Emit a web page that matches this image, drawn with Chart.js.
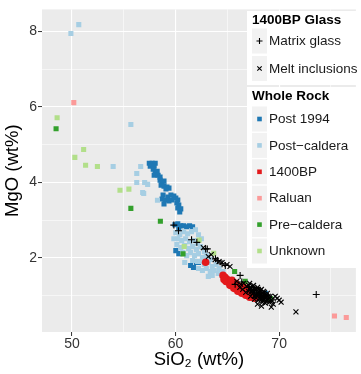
<!DOCTYPE html>
<html>
<head>
<meta charset="utf-8">
<script src="https://cdn.jsdelivr.net/npm/chart.js@4/dist/chart.umd.min.js"></script>
<style>
  html, body { margin: 0; padding: 0; background: #fff; }
  #wrap { width: 361px; height: 374px; }
</style>
</head>
<body>
<div id="wrap"><canvas id="canvas1" width="361" height="374"></canvas></div>
<script>
// Tick values
const xTicks = [50, 55, 60, 65, 70, 75];
const yTicks = [1, 2, 3, 4, 5, 6, 7, 8];

// Whole rock series [SiO2, MgO]
const post1994 = [
  [57.46,4.505],[57.74,4.505],[58.03,4.505],[57.55,4.426],[57.93,4.426],[57.84,4.347],[58.03,4.268],
  [58.22,4.294],[57.93,4.189],[58.31,4.189],[58.50,4.137],[58.50,4.058],[58.69,4.005],[58.88,4.031],
  [58.60,3.926],[58.88,3.900],[59.17,3.874],[59.36,3.847],[59.07,3.821],[58.79,3.663],[58.69,3.558],
  [58.98,3.532],[59.26,3.611],[59.55,3.663],[59.83,3.637],[59.64,3.532],[60.02,3.584],[60.21,3.532],
  [60.12,3.453],[60.31,3.401],[60.21,3.322],[60.50,3.296],[60.40,3.217],[58.88,3.427],[59.36,3.506],
  [59.93,2.875],[60.21,2.901],[60.50,2.849],[60.78,2.849],[61.07,2.823],[61.35,2.849],[61.64,2.823],
  [60.31,2.770],[60.02,2.192],[60.31,2.113],[61.45,1.797],[61.73,1.745],[62.02,1.876],[62.21,1.876],
  [68.67,1.061]
];
const postCaldera = [
  [49.89,7.94],[50.65,8.176],[55.68,5.53],[53.97,4.418],[56.63,4.418],[56.25,4.234],[56.25,3.997],
  [57.01,3.997],[57.30,3.945],[56.82,3.729],[56.92,3.703],[58.25,3.524],
  [60.02,2.665],[60.40,2.613],[60.78,2.692],[61.16,2.639],[61.54,2.692],[61.92,2.744],[62.21,2.613],
  [62.49,2.507],[60.21,2.507],[60.59,2.455],[60.97,2.507],[61.35,2.428],[61.73,2.455],[62.11,2.376],
  [60.12,2.350],[60.50,2.271],[60.88,2.323],[61.26,2.244],[61.64,2.297],[62.02,2.218],[62.40,2.297],
  [62.78,2.166],[60.69,2.139],[61.07,2.060],[61.45,2.139],[61.83,2.060],[62.21,2.113],[62.59,2.008],
  [62.97,2.060],[63.35,1.955],[61.64,1.929],[62.11,1.903],[62.40,1.903],[62.78,1.824],[63.16,1.876],
  [63.54,1.771],[63.92,1.824],[62.21,1.719],[62.59,1.666],[62.97,1.719],[63.35,1.640],[63.73,1.666],
  [64.11,1.587],[64.49,1.535],[63.54,1.535],[64.20,1.719],[64.58,1.640],[60.88,1.876],[59.83,2.507],
  [63.16,1.509]
];
const bp1400 = [
  [62.90,1.884],
  [64.58,1.535],[64.77,1.482],[64.96,1.430],[65.15,1.377],[65.34,1.351],[65.53,1.298],[65.72,1.272],
  [65.91,1.246],[66.10,1.193],[66.29,1.167],[66.48,1.140],[66.67,1.114],[66.86,1.088],[67.05,1.035],
  [67.24,1.009],[67.43,0.957],[67.62,0.930],[64.87,1.377],[65.25,1.272],[65.63,1.193],[66.01,1.114],
  [66.39,1.062],[66.77,1.009],[67.15,0.957],[64.68,1.430],[65.44,1.403],[65.82,1.325],[66.20,1.246],
  [66.58,1.219],[66.96,1.140]
];
const raluan = [[50.17,6.11],[75.34,0.46],[76.48,0.42]];
const preCaldera = [[48.46,5.42],[55.68,3.31],[58.53,2.97],[60.72,2.105],[65.70,1.64],[69.17,0.92],[66.72,1.377]];
const unknown = [
  [48.56,5.71],[51.12,4.87],[50.27,4.66],[51.31,4.45],[52.45,4.42],[54.63,3.79],[55.49,3.82],
  [62.27,2.47],[63.68,2.12],[60.83,2.30]
];

// 1400BP glass series
const matrixGlass = [
  [59.83,2.867],[60.28,2.717],[61.54,2.481],[62.05,2.410],[62.90,2.237],[63.06,2.237],[63.85,1.974],
  [64.08,1.929],[64.49,1.842],[64.80,1.798],[66.23,1.535],[65.75,1.298],[66.39,1.359],[67.05,1.219],
  [67.62,1.140],[68.10,1.061],[68.57,0.983],[73.58,1.028]
];
const meltInclusions = [
  [62.68,2.271],[63.16,2.034],[63.44,2.087],[63.82,1.955],[64.20,1.903],[64.49,1.876],[64.96,1.824],
  [65.25,1.771],[65.91,1.377],[66.20,1.219],[66.58,1.325],[66.86,1.246],[67.15,1.325],[67.34,1.193],
  [67.53,1.272],[67.72,1.140],[67.91,1.219],[68.10,1.088],[68.29,1.167],[67.05,1.114],[67.43,1.062],
  [67.81,1.009],[68.19,0.957],[68.57,1.035],[68.76,0.957],[68.95,0.904],[67.62,0.904],[68.00,0.878],
  [68.38,0.825],[67.24,0.983],[66.77,1.088],[68.48,1.114],[67.91,0.773],[68.29,0.720],[68.67,0.799],
  [69.05,0.825],[69.33,0.852],[69.43,0.773],[69.24,0.694],[69.81,0.930],[70.00,0.878],[70.19,0.825],
  [69.62,0.983],[68.86,1.062],[69.14,0.983],[68.00,1.167],[67.43,1.140],[67.81,1.062],[68.19,1.009],
  [68.57,0.904],[68.76,0.852],[67.62,0.983],[68.38,0.983],[66.48,1.167],[66.29,1.298],[71.62,0.570],
  [67.05,1.272],[67.24,1.219],[67.43,1.246],[67.62,1.193],[67.81,1.167],[68.00,1.114],[68.19,1.140],
  [68.38,1.062],[68.57,1.088],[68.76,1.009],[68.95,0.983],[67.53,1.088],[67.72,1.035],[67.91,0.983],
  [68.10,0.930],[68.29,0.904],[68.48,0.878],[67.34,1.114],[67.15,1.167],[68.67,0.930],[68.86,0.878],
  [69.05,0.930],[69.24,0.878],[68.00,1.035],[68.38,0.957]
];

const FONT = "'Liberation Sans', Arial, Helvetica, sans-serif";
const toXY = arr => arr.map(p => ({ x: p[0], y: p[1] }));

function sq(label, data, color, order) {
  return { label, data: toXY(data), pointStyle: "rect", pointRadius: 3.6, pointBorderWidth: 0,
    backgroundColor: color, borderColor: color, order, group: "Whole Rock" };
}

const datasets = [
  { label: "Matrix glass", data: toXY(matrixGlass), pointStyle: "cross", pointRadius: 3.5,
    pointBorderWidth: 1.1, borderColor: "#000", backgroundColor: "#000", order: 1, group: "1400BP Glass" },
  { label: "Melt inclusions", data: toXY(meltInclusions), pointStyle: "crossRot", pointRadius: 3.5,
    pointBorderWidth: 1.1, borderColor: "#000", backgroundColor: "#000", order: 0, group: "1400BP Glass" },
  sq("Post 1994", post1994, "#1f78b4", 7),
  sq("Post\u2212caldera", postCaldera, "#a6cee3", 6),
  { label: "1400BP", data: toXY(bp1400), pointStyle: "circle", pointRadius: 3.8, pointBorderWidth: 0,
    backgroundColor: "#e31a1c", borderColor: "#e31a1c", order: 2, group: "Whole Rock" },
  sq("Raluan", raluan, "#fb9a99", 5),
  sq("Pre\u2212caldera", preCaldera, "#33a02c", 3),
  sq("Unknown", unknown, "#b2df8a", 4)
];

// grey panel behind the points
const panelBg = {
  id: "panelBg",
  beforeDraw(chart) {
    const a = chart.chartArea, ctx = chart.ctx;
    ctx.save();
    ctx.fillStyle = "#ebebeb";
    ctx.fillRect(a.left, a.top, a.right - a.left, a.bottom - a.top);
    ctx.restore();
  }
};

// ggplot-like legend boxes at top right
const boxLegend = {
  id: "boxLegend",
  afterDraw(chart) {
    const ctx = chart.ctx;
    const groups = [
      { title: "1400BP Glass", top: 11, bottom: 85, firstY: 41, step: 27.5 },
      { title: "Whole Rock", top: 87, bottom: 268, firstY: 119, step: 26.4 }
    ];
    ctx.save();
    groups.forEach(g => {
      ctx.fillStyle = "#fff";
      ctx.fillRect(247, g.top, 114, g.bottom - g.top);
      ctx.fillStyle = "#000";
      ctx.font = "bold 13.5px " + FONT;
      ctx.textBaseline = "middle";
      ctx.textAlign = "left";
      ctx.fillText(g.title, 252, g.top + 9.5);
      const items = datasets.filter(d => d.group === g.title);
      items.forEach((d, i) => {
        const cy = g.firstY + i * g.step;
        ctx.fillStyle = "#f2f2f2";
        ctx.fillRect(252, cy - 12.5, 15, 25);
        const cx = 259.5;
        if (d.pointStyle === "rect" || d.pointStyle === "circle") {
          ctx.fillStyle = d.backgroundColor;
          ctx.fillRect(cx - 2.3, cy - 2.3, 4.6, 4.6);
        } else if (d.pointStyle === "cross") {
          ctx.strokeStyle = "#000"; ctx.lineWidth = 1.1;
          ctx.beginPath();
          ctx.moveTo(cx - 3, cy); ctx.lineTo(cx + 3, cy);
          ctx.moveTo(cx, cy - 3); ctx.lineTo(cx, cy + 3);
          ctx.stroke();
        } else {
          ctx.strokeStyle = "#000"; ctx.lineWidth = 1.1;
          ctx.beginPath();
          ctx.moveTo(cx - 2.2, cy - 2.2); ctx.lineTo(cx + 2.2, cy + 2.2);
          ctx.moveTo(cx + 2.2, cy - 2.2); ctx.lineTo(cx - 2.2, cy + 2.2);
          ctx.stroke();
        }
        ctx.fillStyle = "#1a1a1a";
        ctx.font = "13.5px " + FONT;
        ctx.fillText(d.label, 269, cy + 0.5);
      });
    });
    ctx.restore();
  }
};

let myChart1 = document.querySelector("#canvas1").getContext("2d");

let scatterChart = new Chart(myChart1, {
  type: "scatter",
  data: { datasets },
  options: {
    responsive: false,
    animation: false,
    devicePixelRatio: 1,
    layout: { padding: { top: 7, right: 0, left: 0, bottom: 0 } },
    plugins: { legend: { display: false }, tooltip: { enabled: false } },
    scales: {
      x: {
        type: "linear", min: 47.1, max: 77.41,
        afterBuildTicks: s => { s.ticks = xTicks.map(v => ({ value: v })); },
        afterFit: s => { s.height = 42; },
        border: { display: false },
        grid: {
          color: "#ffffff",
          lineWidth: c => (c.tick && c.tick.value % 10 === 0) ? 1.1 : 0.55,
          tickColor: c => (c.tick && c.tick.value % 10 === 0) ? "#333333" : "rgba(0,0,0,0)",
          tickLength: 4, tickWidth: 1
        },
        ticks: {
          padding: 0, color: "#333333", maxRotation: 0,
          font: { family: FONT, size: 14 },
          callback: v => (v % 10 === 0 ? String(v) : "")
        },
        title: { display: true, text: "SiO\u2082 (wt%)", color: "#000",
          font: { family: FONT, size: 18.5 }, padding: { top: 0, bottom: 3 } }
      },
      y: {
        type: "linear", min: 0.037, max: 8.578,
        afterBuildTicks: s => { s.ticks = yTicks.map(v => ({ value: v })); },
        afterFit: s => { s.width = 42; },
        border: { display: false },
        grid: {
          color: "#ffffff",
          lineWidth: c => (c.tick && c.tick.value % 2 === 0) ? 1.1 : 0.55,
          tickColor: c => (c.tick && c.tick.value % 2 === 0) ? "#333333" : "rgba(0,0,0,0)",
          tickLength: 4, tickWidth: 1
        },
        ticks: {
          padding: 1, color: "#333333",
          font: { family: FONT, size: 14 },
          callback: v => (v % 2 === 0 ? String(v) : "")
        },
        title: { display: true, text: "MgO (wt%)", color: "#000",
          font: { family: FONT, size: 18.5 }, padding: { top: 2, bottom: 0 } }
      }
    }
  },
  plugins: [panelBg, boxLegend]
});
</script>
</body>
</html>
